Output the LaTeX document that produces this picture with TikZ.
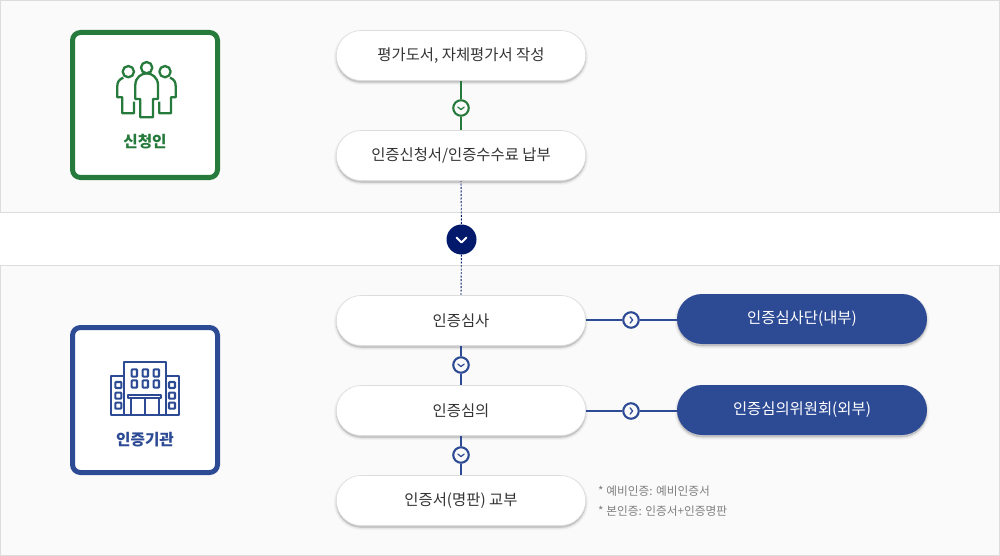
\documentclass[tikz,border=0pt]{standalone}
\usepackage{fontspec}
\setmainfont{Noto Sans CJK KR}
\usetikzlibrary{calc}
\definecolor{grn}{HTML}{267A3C}
\definecolor{blu}{HTML}{2D4A94}
\definecolor{navy}{HTML}{03196B}
\definecolor{panelbg}{HTML}{FAFAFA}
\definecolor{panelln}{HTML}{DDDDDD}
\definecolor{txt}{HTML}{333333}
\definecolor{note}{HTML}{808080}
\tikzset{
  x=1pt,y=-1pt,
  panel/.style={draw=panelln,fill=panelbg,line width=1pt},
  softshadow/.style={preaction={fill=black,fill opacity=.03,transform canvas={yshift=-2pt},draw=black,draw opacity=.03,line width=5pt},
                     preaction={fill=black,fill opacity=.04,transform canvas={yshift=-2pt},draw=black,draw opacity=.04,line width=3pt},
                     preaction={fill=black,fill opacity=.07,transform canvas={yshift=-2pt},draw=black,draw opacity=.05,line width=1pt}},
  stepbox/.style={softshadow,draw=panelln,line width=.6pt,fill=white,rounded corners=25pt,minimum width=249.5pt,minimum height=50pt,inner sep=0pt,text=txt,font=\fontsize{15.4}{18}\selectfont},
  pillbox/.style={softshadow,fill=blu,rounded corners=25pt,minimum width=250pt,minimum height=50pt,inner sep=0pt,text=white,font=\fontsize{15.4}{18}\selectfont},
  rolebox/.style={draw=#1,fill=white,line width=5pt,rounded corners=8pt,minimum width=145pt,minimum height=145pt,inner sep=0pt},
  rolelabel/.style={text=#1,inner sep=0pt,font=\fontsize{15.7}{18}\selectfont},
  dotnode/.style={circle,draw=#1,fill=panelbg,line width=2.1pt,minimum size=15.5pt,inner sep=0pt},
  link/.style={draw=#1,line width=2pt},
  chev/.style={draw=#1,line width=1.2pt,line cap=round,line join=round},
  icon/.style={draw=#1,line width=2.3pt,line join=round,fill=none},
  iconw/.style={draw=#1,line width=2.1pt,rounded corners=.8pt,fill=none},
  notetext/.style={anchor=west,text=note,inner sep=0pt,font=\fontsize{11.7}{14}\selectfont},
}
\begin{document}
\begin{tikzpicture}
\useasboundingbox (0,0) rectangle (1000,556);
\fill[white] (0,0) rectangle (1000,556);
\draw[panel] (.5,.5) rectangle (999.5,212.5);
\draw[panel] (.5,265.5) rectangle (999.5,555.5);

% role boxes
\node[rolebox=grn] (applicant) at (145,105) {};
\node[rolebox=blu] (agency) at (145,400) {};
\node[rolelabel=grn] (applicantlabel) at (145,141.5) {\bfseries 신청인};
\node[rolelabel=blu] (agencylabel) at (145,439.5) {\bfseries 인증기관};

% people icon
\begin{scope}[shift={(60,20)},x=.3333pt,y=-.3333pt]
  \draw[icon=grn] (260,143) circle (17);
  \draw[icon=grn] (205,155) circle (17);
  \draw[icon=grn] (315,155) circle (17);
  \draw[icon=grn] (226,237) -- (226,195) .. controls (226,172) and (245,160) .. (260,160)
     .. controls (275,160) and (294,172) .. (294,195) -- (294,237) -- (279,237) -- (279,292) -- (241,292) -- (241,237) -- cycle;
  \draw[icon=grn] (222,245) -- (222,280) -- (187,280) -- (187,232) -- (172,232) -- (172,198)
     .. controls (172,185) and (178,178) .. (190,173);
  \draw[icon=grn] (298,245) -- (298,280) -- (333,280) -- (333,232) -- (347,232) -- (347,198)
     .. controls (347,185) and (342,178) .. (330,173);
\end{scope}

% building icon
\begin{scope}[shift={(60,315)},x=.3333pt,y=-.3333pt]
  \draw[icon=blu] (193,300) -- (193,141) -- (318,141) -- (318,300);
  \draw[icon=blu] (193,182) -- (153,182) -- (153,300) -- (357,300) -- (357,182) -- (318,182);
  \foreach \cx in {223,256,289}{
    \foreach \cy in {174,207}{
      \draw[iconw=blu] (\cx-8,\cy-11) rectangle (\cx+8,\cy+11);
    }}
  \foreach \cx in {175,336}{
    \foreach \cy in {210,242,272}{
      \draw[iconw=blu] (\cx-9,\cy-9) rectangle (\cx+9,\cy+9);
    }}
  \draw[icon=blu] (205,248) -- (205,240) -- (303,240) -- (303,248) -- cycle;
  \draw[icon=blu] (212,248) -- (212,300);
  \draw[icon=blu] (297,248) -- (297,300);
  \draw[icon=blu] (255,248) -- (255,300);
\end{scope}

% merge marker
\node[circle,fill=navy,minimum size=30pt,inner sep=0pt] (merge) at (461.5,239.5) {};

% connectors first so nodes cover them
\coordinate (s2b) at (461,180);
\coordinate (s3) at (461,296);
\draw[navy,line width=.9pt,dash pattern=on 2pt off 1.5pt] (s2b) -- (merge);
\draw[navy,line width=.9pt,dash pattern=on 2pt off 1.5pt] (merge) -- (s3);
\draw[chev=white,line width=2pt] (456.5,237.5) -- (461.5,242.5) -- (466.5,237.5);

% steps
\node[stepbox] (write) at (461,55.5) {\raisebox{-2pt}{평가도서, 자체평가서 작성}};
\node[stepbox] (apply) at (461,155.5) {\raisebox{-2pt}{인증신청서/인증수수료 납부}};
\node[stepbox] (audit) at (461,320.5) {\raisebox{-1pt}{인증심사}};
\node[stepbox] (review) at (461,410.5) {\raisebox{-1pt}{인증심의}};
\node[stepbox] (issue) at (461,500.5) {\raisebox{-1pt}{인증서(명판) 교부}};

\node[pillbox] (team) at (802,319) {\raisebox{-1.5pt}{인증심사단(내부)}};
\node[pillbox] (board) at (802,410) {\raisebox{-1.5pt}{인증심의위원회(외부)}};

% link dots
\node[dotnode=grn] (d1) at (461,108) {};
\node[dotnode=blu] (d2) at (461,365) {};
\node[dotnode=blu] (d3) at (461,455) {};
\node[dotnode=blu] (d4) at (631,320) {};
\node[dotnode=blu] (d5) at (631,411) {};

\draw[link=grn] (write.south) -- (d1);
\draw[link=grn] (d1) -- (apply.north);
\draw[link=blu] (audit.south) -- (d2);
\draw[link=blu] (d2) -- (review.north);
\draw[link=blu] (review.south) -- (d3);
\draw[link=blu] (d3) -- (issue.north);
\draw[link=blu] (audit.east |- d4) -- (d4);
\draw[link=blu] (d4) -- (team.west |- d4);
\draw[link=blu] (review.east |- d5) -- (d5);
\draw[link=blu] (d5) -- (board.west |- d5);

% chevrons
\foreach \n/\c in {d1/grn,d2/blu,d3/blu}{
  \draw[chev=\c] ($(\n)+(-3.2,-1)$) -- ($(\n)+(0,1.6)$) -- ($(\n)+(3.2,-1)$);
}
\foreach \n/\c in {d4/blu,d5/blu}{
  \draw[chev=\c] ($(\n)+(-1,-3.2)$) -- ($(\n)+(1.6,0)$) -- ($(\n)+(-1,3.2)$);
}

% notes
\node[notetext] (note1) at (598,491.5) {* 예비인증: 예비인증서};
\node[notetext] (note2) at (598,511.5) {* 본인증: 인증서+인증명판};
\end{tikzpicture}
\end{document}
